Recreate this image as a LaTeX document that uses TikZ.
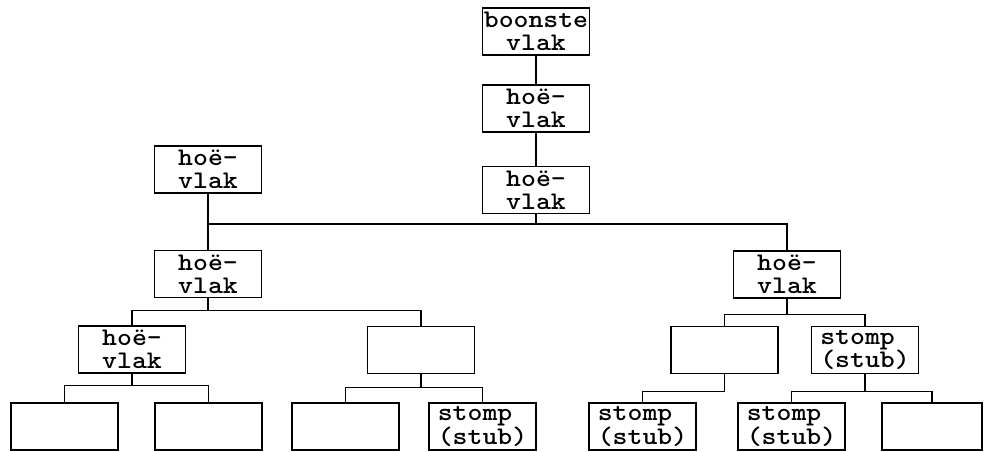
\documentclass[tikz,border=0pt]{standalone}
\usepackage{fontspec}
\newfontfamily\boxfont[FakeStretch=1.12]{lmmonolt10-bold.otf}
\begin{document}
\begin{tikzpicture}[x=0.75pt,y=-0.75pt,line width=0.9pt,
  box/.style={draw,line width=1.1pt,minimum width=80.25pt,minimum height=35.25pt,
    inner sep=0pt,align=center,font=\boxfont\fontsize{19}{17.5}\selectfont},
  stubbox/.style={box,align=left}]
\useasboundingbox (0,0) rectangle (984,452);
% top chain
\node[box] (b0) at (536,31.5) {boonste\\vlak};
\node[box] (b1) at (536,108.5) {hoë-\\vlak};
\node[box] (b2) at (536,190) {hoë-\\vlak};
% second level
\node[box] (L1) at (208,169.5) {hoë-\\vlak};
\node[box] (L2) at (208,274) {hoë-\\vlak};
\node[box] (R2) at (787,274.5) {hoë-\\vlak};
% third level
\node[box] (L3) at (132,349.5) {hoë-\\vlak};
\node[box] (M3) at (421,350) {};
\node[box] (R3a) at (724.5,350) {};
\node[stubbox] (R3b) at (865,350) {stomp\\(stub)};
% bottom row
\node[box] (B1) at (64.5,426.5) {};
\node[box] (B2) at (208.5,426.5) {};
\node[box] (B3) at (345.5,426.5) {};
\node[stubbox] (B4) at (482.5,426.5) {stomp\\(stub)};
\node[stubbox] (B5) at (642.5,426.5) {stomp\\(stub)};
\node[stubbox] (B6) at (791.5,426.5) {stomp\\(stub)};
\node[box,minimum width=75pt] (B7) at (932,426.5) {};
% connectors
\coordinate (bus) at (536,224);
\draw (b0) -- (b1);
\draw (b1) -- (b2);
\draw (b2.south) -- (bus);
\draw (L1.south) -- (L2.north);
\draw (L1.south |- bus) -- (R2.north |- bus) -- (R2.north);
\draw (L2.south) -- ++(0,12) -| (L3.north);
\draw (L2.south) ++(0,12) -| (M3.north);
\draw (L3.south) -- ++(0,12) -| (B1.north);
\draw (L3.south) ++(0,12) -| (B2.north);
\draw (M3.south) -- ++(0,13) -| (B3.north);
\draw (M3.south) ++(0,13) -| (B4.north);
\draw (R2.south) -- ++(0,16) -| (R3a.north);
\draw (R2.south) ++(0,16) -| (R3b.north);
\draw (R3a.south) -- ++(0,17) -| (B5.north);
\draw (R3b.south) -- ++(0,17) -| (B6.north);
\draw (R3b.south) ++(0,17) -| (B7.north);
\end{tikzpicture}
\end{document}
